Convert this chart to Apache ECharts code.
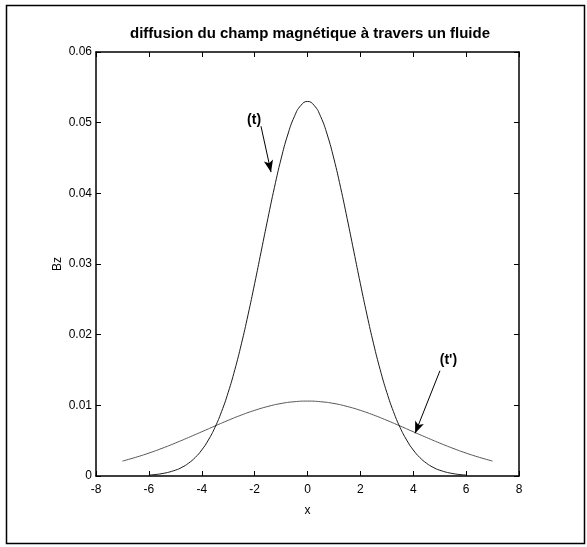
<!DOCTYPE html>
<html>
<head>
<meta charset="utf-8">
<script src="https://cdn.jsdelivr.net/npm/echarts@6/dist/echarts.min.js"></script>
<style>html,body{margin:0;padding:0;background:#fff}#c{width:587px;height:547px}</style>
</head>
<body>
<div id="c"></div>
<script>
// (t) curve : x values and Bz values
var tX = [-6, -5.5, -5, -4.75, -4.5, -4.25, -4, -3.75, -3.5, -3.25, -3, -2.75, -2.5, -2.25, -2, -1.75, -1.5, -1.25, -1, -0.75, -0.5, -0.25, 0,
          0.25, 0.5, 0.75, 1, 1.25, 1.5, 1.75, 2, 2.25, 2.5, 2.75, 3, 3.25, 3.5, 3.75, 4, 4.25, 4.5, 4.75, 5, 5.5, 6];
var tY = [0.00013, 0.00034, 0.00082, 0.00123, 0.00181, 0.00261, 0.00368, 0.00509, 0.00688, 0.00912, 0.01183, 0.01503, 0.01870, 0.02280, 0.02721, 0.03182, 0.03643, 0.04085, 0.04487, 0.04826, 0.05084, 0.05245, 0.0530,
          0.05245, 0.05084, 0.04826, 0.04487, 0.04085, 0.03643, 0.03182, 0.02721, 0.02280, 0.01870, 0.01503, 0.01183, 0.00912, 0.00688, 0.00509, 0.00368, 0.00261, 0.00181, 0.00123, 0.00082, 0.00034, 0.00013];
// (t') curve
var tpX = [-7, -6.5, -6, -5.5, -5, -4.5, -4, -3.5, -3, -2.5, -2, -1.5, -1, -0.5, 0, 0.5, 1, 1.5, 2, 2.5, 3, 3.5, 4, 4.5, 5, 5.5, 6, 6.5, 7];
var tpY = [0.00211, 0.00264, 0.00324, 0.00392, 0.00466, 0.00545, 0.00626, 0.00708, 0.00788, 0.00863, 0.00929, 0.00984, 0.01026, 0.01051, 0.01060,
           0.01051, 0.01026, 0.00984, 0.00929, 0.00863, 0.00788, 0.00708, 0.00626, 0.00545, 0.00466, 0.00392, 0.00324, 0.00264, 0.00211];
// annotations (data coordinates)
var annT = {label: '(t)', text: [-2.02, 0.0504], from: [-1.76, 0.0495], to: [-1.38, 0.0430]};
var annTp = {label: "(t')", text: [5.33, 0.0164], from: [5.01, 0.0149], to: [4.07, 0.00604]};
var xTicks = {min: -8, max: 8, interval: 2};
var yTicks = {min: 0, max: 0.06, interval: 0.01};

function zip(a, b) { return a.map(function (v, i) { return [v, b[i]]; }); }

var FONT = '"Liberation Sans", Arial, sans-serif';
var chart = echarts.init(document.getElementById('c'), null, {renderer: 'canvas'});
var axisCommon = {
  axisLine: {show: true, onZero: false, lineStyle: {color: '#000', width: 1.5}},
  axisTick: {show: true, inside: true, length: 5, lineStyle: {color: '#000', width: 1}},
  splitLine: {show: false}
};
function arrowLine(a) {
  return [[{coord: a.from, symbol: 'none'}, {coord: a.to, symbol: 'arrow'}]];
}
chart.setOption({
  animation: false,
  backgroundColor: '#fff',
  title: {
    text: 'diffusion du champ magnétique à travers un fluide',
    left: 305, top: 21, textAlign: 'center',
    textStyle: {fontFamily: FONT, fontSize: 15, fontWeight: 'bold', color: '#000'}
  },
  grid: {left: 96, right: 68, top: 52, bottom: 71},
  xAxis: [
    Object.assign({type: 'value', min: xTicks.min, max: xTicks.max, interval: xTicks.interval, position: 'bottom',
      name: 'x', nameLocation: 'middle', nameGap: 29,
      nameTextStyle: {fontFamily: FONT, fontSize: 12, color: '#000'},
      axisLabel: {fontFamily: FONT, fontSize: 12, color: '#000', margin: 8}}, axisCommon),
    Object.assign({type: 'value', min: xTicks.min, max: xTicks.max, interval: xTicks.interval, position: 'top',
      axisLabel: {show: false}}, axisCommon)
  ],
  yAxis: [
    Object.assign({type: 'value', min: yTicks.min, max: yTicks.max, interval: yTicks.interval, position: 'left',
      name: 'Bz', nameLocation: 'middle', nameGap: 32, nameRotate: 90, nameMoveOverlap: false,
      nameTextStyle: {fontFamily: FONT, fontSize: 12, color: '#000'},
      axisLabel: {fontFamily: FONT, fontSize: 12, color: '#000', margin: 4,
        formatter: function (v) { return v === 0 ? '0' : String(+v.toFixed(2)); }}}, axisCommon),
    Object.assign({type: 'value', min: yTicks.min, max: yTicks.max, interval: yTicks.interval, position: 'right',
      axisLabel: {show: false}}, axisCommon)
  ],
  series: [
    {
      type: 'line', data: zip(tX, tY), showSymbol: false, smooth: true, clip: false,
      lineStyle: {color: '#1a1a1a', width: 1}, z: 3,
      markLine: {
        silent: true, symbolSize: [7, 12], lineStyle: {color: '#000', width: 1, type: 'solid'},
        label: {show: false}, data: arrowLine(annT)
      },
      markPoint: {
        symbol: 'circle', symbolSize: 0, silent: true,
        label: {show: true, formatter: annT.label, fontFamily: FONT, fontSize: 14, fontWeight: 'bold', color: '#000', position: 'inside'},
        data: [{coord: annT.text}]
      }
    },
    {
      type: 'line', data: zip(tpX, tpY), showSymbol: false, smooth: true, clip: false,
      lineStyle: {color: '#555', width: 1}, z: 2,
      markLine: {
        silent: true, symbolSize: [7, 12], lineStyle: {color: '#000', width: 1, type: 'solid'},
        label: {show: false}, data: arrowLine(annTp)
      },
      markPoint: {
        symbol: 'circle', symbolSize: 0, silent: true,
        label: {show: true, formatter: annTp.label, fontFamily: FONT, fontSize: 14, fontWeight: 'bold', color: '#000', position: 'inside'},
        data: [{coord: annTp.text}]
      }
    }
  ],
  graphic: [{
    type: 'rect', left: 4, top: 3, silent: true,
    shape: {width: 578, height: 538},
    style: {fill: 'none', stroke: '#000', lineWidth: 1.5}
  }]
});
</script>
</body>
</html>
